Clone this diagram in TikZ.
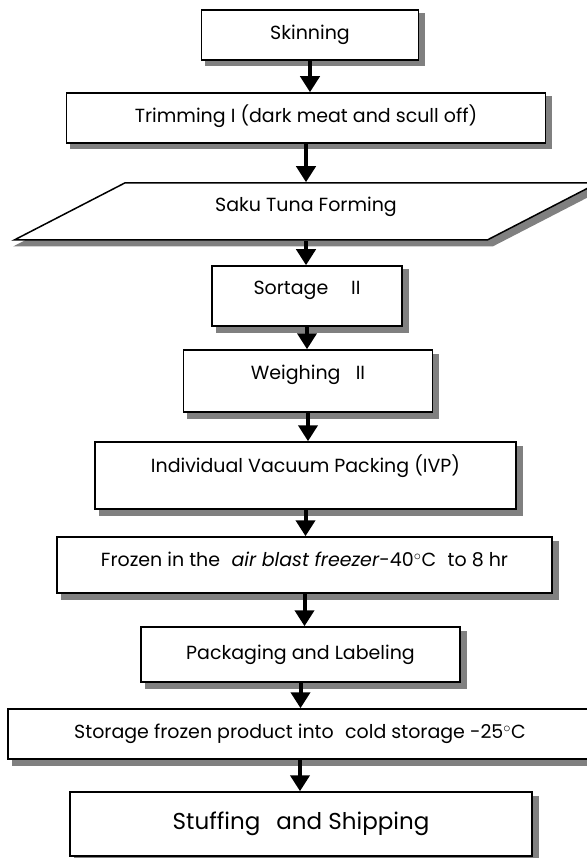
\documentclass[tikz,border=0pt]{standalone}
\usepackage{fontspec}
\setmainfont{Poppins}
\usepackage{tikz}
\usetikzlibrary{arrows.meta,shapes.geometric,backgrounds}
\definecolor{shadowgrey}{RGB}{128,128,128}
\newcommand{\degC}{$^{\circ}$C}

\begin{document}
\begin{tikzpicture}[x=1pt, y=-1pt,
    font=\fontsize{19}{22}\selectfont,
    flowbox/.style={draw, line width=1.5pt, fill=white, inner sep=0pt,
      text height=14pt, text depth=5pt},
    boxshadow/.style={fill=shadowgrey, draw=shadowgrey, line width=1.5pt},
    flowarrow/.style={line width=4pt, -{Triangle[width=19pt, length=16pt]}}]

    \useasboundingbox (0,0) rectangle (586,858);

    % Process boxes (top to bottom)
    \node[flowbox, minimum width=217, minimum height=50] (skin) at (310, 35)
      {Skinning};
    \node[flowbox, minimum width=479, minimum height=50] (trim) at (306, 118)
      {Trimming I (dark meat and scull off)};
    \node[flowbox, trapezium, trapezium left angle=26, trapezium right angle=154,
      trapezium stretches=true, minimum width=584, minimum height=57,
      text depth=13pt] (saku) at (306, 211.5)
      {Saku Tuna Forming};
    \node[flowbox, minimum width=190, minimum height=60, text depth=17pt]
      (sort) at (307, 296) {Sortage\hspace{1.2em}II};
    \node[flowbox, minimum width=249, minimum height=62, text depth=17pt]
      (weigh) at (308, 381) {Weighing\hspace{0.8em}II};
    \node[flowbox, minimum width=421, minimum height=67, text depth=21pt]
      (ivp) at (305.5, 475.5) {Individual Vacuum Packing (IVP)};
    \node[flowbox, minimum width=495, minimum height=56, text depth=11pt]
      (froz) at (304.5, 565)
      {Frozen in the\hspace{0.6em}\textit{air blast freezer}-40\degC\hspace{0.6em}to 8 hr};
    \node[flowbox, minimum width=319, minimum height=55] (pack) at (300.5, 654.5)
      {Packaging and Labeling};
    \node[flowbox, minimum width=584, minimum height=50] (stor) at (300, 734)
      {Storage frozen product into\hspace{0.6em}cold storage -25\degC};
    \node[flowbox, minimum width=462, minimum height=64,
      font=\fontsize{23}{27}\selectfont, text height=17pt, text depth=6pt]
      (stuff) at (301, 824) {Stuffing\hspace{0.7em}and Shipping};

    % Grey shadows behind the boxes
    \begin{scope}[on background layer]
      \foreach \n in {skin, trim, sort, weigh, ivp, froz, pack, stor, stuff}{
        \path[boxshadow] ([xshift=5pt, yshift=-5pt]\n.north west)
          rectangle ([xshift=5pt, yshift=-5pt]\n.south east);
      }
      \path[boxshadow] ([xshift=5pt, yshift=-5pt]saku.bottom left corner)
        -- ([xshift=5pt, yshift=-5pt]saku.bottom right corner)
        -- ([xshift=5pt, yshift=-5pt]saku.top right corner)
        -- ([xshift=5pt, yshift=-5pt]saku.top left corner) -- cycle;
    \end{scope}

    % Flow arrows
    \foreach \a/\b in {skin/trim, trim/saku, saku/sort, sort/weigh, weigh/ivp,
      ivp/froz, froz/pack, pack/stor, stor/stuff}{
      \draw[flowarrow] (\a.south) -- (\a.south |- \b.north);
    }

  \end{tikzpicture}
\end{document}
